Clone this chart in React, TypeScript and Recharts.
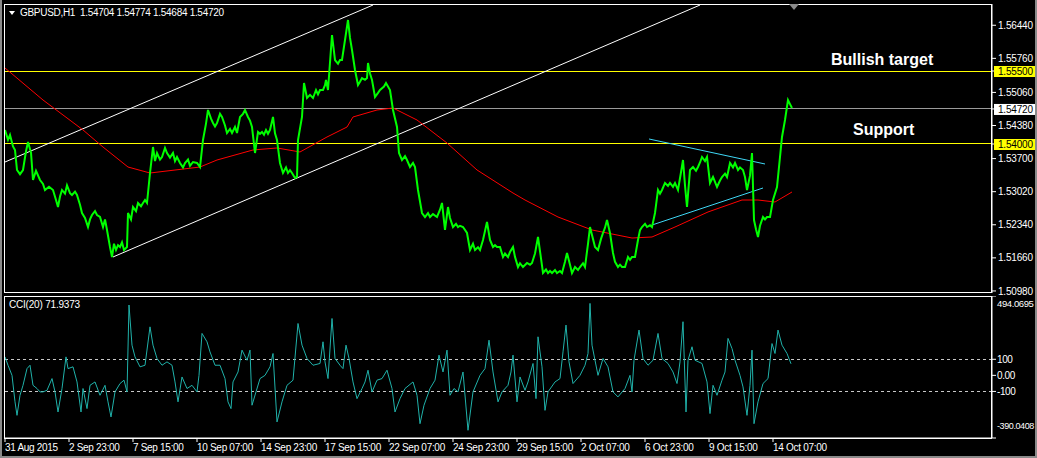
import { LineChart, Line, XAxis, YAxis, ReferenceLine } from 'recharts';

const FONT = '"Liberation Sans", Arial, sans-serif';

// one bar per hour, counted across the chart window
const X_DOMAIN: [number, number] = [4, 992];
const TIME_TICKS = [5, 69, 133, 197, 261, 325, 389, 453, 517, 581, 645, 709, 773];
const TIME_LABELS = [
  '31 Aug 2015', '2 Sep 23:00', '7 Sep 15:00', '10 Sep 07:00', '14 Sep 23:00',
  '17 Sep 15:00', '22 Sep 07:00', '24 Sep 23:00', '29 Sep 15:00', '2 Oct 07:00',
  '6 Oct 23:00', '9 Oct 15:00', '14 Oct 07:00',
];

const PRICE_DOMAIN: [number, number] = [1.50938, 1.56877];
const PRICE_TICKS = [1.5098, 1.5166, 1.5234, 1.5302, 1.537, 1.5438, 1.5506, 1.5576, 1.5644];
const BULLISH_TARGET = 1.555;
const SUPPORT = 1.54;
const LAST_PRICE = 1.5472;

// GBPUSD H1 close [bar, price]
const PRICE: [number, number][] = [
  [5, 1.54288], [8, 1.54085], [10, 1.54185], [13, 1.5395], [15, 1.53877], [17, 1.53466], [20, 1.5338],
  [23, 1.53466], [26, 1.5385], [28, 1.54041], [31, 1.5382], [33, 1.5326], [36, 1.5345], [40, 1.5326],
  [43, 1.5318], [45, 1.53055], [49, 1.5312], [53, 1.53055], [56, 1.5285], [58, 1.52705], [60, 1.5292],
  [62, 1.53055], [65, 1.5298], [67, 1.5315], [70, 1.5299], [72, 1.52952], [75, 1.5302], [77, 1.52952],
  [80, 1.5275], [82, 1.52582], [85, 1.5248], [88, 1.52294], [90, 1.5245], [92, 1.52541], [95, 1.5262],
  [97, 1.52541], [100, 1.525], [103, 1.52294], [105, 1.5245], [107, 1.52233], [110, 1.51883],
  [112, 1.51678], [114, 1.5195], [116, 1.51822], [118, 1.5192], [120, 1.51883], [122, 1.5198],
  [124, 1.51822], [127, 1.51883], [128, 1.52582], [131, 1.5245], [133, 1.52705], [136, 1.5262],
  [138, 1.52788], [141, 1.5272], [143, 1.52788], [145, 1.5285], [147, 1.52788], [150, 1.53404],
  [153, 1.53938], [155, 1.5365], [157, 1.53815], [160, 1.5368], [162, 1.53733], [165, 1.5392],
  [167, 1.53815], [170, 1.5372], [173, 1.53815], [175, 1.5365], [177, 1.53733], [180, 1.5361],
  [183, 1.5352], [185, 1.5361], [188, 1.5368], [190, 1.5355], [193, 1.5363], [197, 1.5361],
  [200, 1.53527], [203, 1.54082], [206, 1.5442], [208, 1.54699], [211, 1.5452], [213, 1.54432],
  [215, 1.5436], [217, 1.54432], [220, 1.5462], [222, 1.54555], [225, 1.5438], [227, 1.54226],
  [230, 1.5431], [232, 1.54226], [235, 1.5435], [237, 1.54226], [240, 1.54555], [243, 1.5462],
  [245, 1.54699], [248, 1.54555], [250, 1.5448], [252, 1.54349], [255, 1.53815], [258, 1.54247],
  [260, 1.5421], [262, 1.54247], [264, 1.5419], [266, 1.54288], [268, 1.5421], [270, 1.54288],
  [273, 1.54555], [275, 1.5422], [277, 1.54082], [280, 1.5361], [283, 1.53404], [286, 1.5352],
  [288, 1.53404], [290, 1.5346], [292, 1.53404], [295, 1.53301], [297, 1.53322], [298, 1.54082],
  [300, 1.5432], [302, 1.54555], [304, 1.55254], [307, 1.54945], [310, 1.5501], [313, 1.54945],
  [316, 1.5511], [318, 1.5502], [320, 1.5511], [323, 1.5511], [325, 1.5521], [326, 1.55315],
  [328, 1.5511], [332, 1.5624], [335, 1.55726], [338, 1.5565], [340, 1.55726], [342, 1.55726],
  [345, 1.56137], [348, 1.56548], [350, 1.5618], [352, 1.55932], [355, 1.55521], [358, 1.55212],
  [360, 1.5528], [362, 1.55356], [365, 1.5532], [367, 1.55356], [368, 1.55665], [370, 1.5545],
  [372, 1.55315], [375, 1.54966], [378, 1.5505], [380, 1.5511], [384, 1.5518], [386, 1.55254],
  [390, 1.5511], [393, 1.54699], [397, 1.54349], [399, 1.53815], [402, 1.53671], [405, 1.5375],
  [407, 1.53671], [410, 1.53527], [413, 1.5361], [415, 1.53527], [418, 1.53055], [422, 1.52582],
  [425, 1.525], [428, 1.5258], [430, 1.525], [433, 1.5256], [437, 1.525], [440, 1.5265],
  [442, 1.52788], [445, 1.52233], [448, 1.52705], [450, 1.5248], [453, 1.52294], [456, 1.5236],
  [458, 1.52294], [460, 1.5232], [463, 1.52294], [467, 1.52171], [470, 1.51822], [473, 1.5195],
  [475, 1.51822], [478, 1.5188], [480, 1.51822], [483, 1.52027], [487, 1.52397], [490, 1.52027],
  [493, 1.51883], [495, 1.5192], [497, 1.51883], [500, 1.51883], [503, 1.51678], [505, 1.5175],
  [508, 1.51678], [510, 1.5178], [513, 1.51883], [515, 1.5168], [518, 1.51472], [520, 1.5155],
  [523, 1.51472], [527, 1.51555], [530, 1.5152], [532, 1.51555], [535, 1.5175], [538, 1.52089],
  [541, 1.5165], [543, 1.51349], [546, 1.5142], [548, 1.51349], [550, 1.5139], [552, 1.51349],
  [555, 1.5141], [557, 1.51349], [560, 1.5139], [562, 1.51349], [565, 1.5158], [567, 1.5176],
  [570, 1.5152], [572, 1.51349], [575, 1.51472], [578, 1.5141], [580, 1.51472], [583, 1.5155],
  [585, 1.51472], [588, 1.5195], [590, 1.52294], [593, 1.5205], [595, 1.51883], [598, 1.51822],
  [601, 1.5205], [603, 1.52171], [605, 1.5228], [607, 1.52438], [610, 1.52171], [613, 1.5176],
  [615, 1.5158], [618, 1.51472], [620, 1.5152], [622, 1.51472], [625, 1.51472], [628, 1.51678],
  [630, 1.5162], [632, 1.51678], [635, 1.51678], [638, 1.52027], [640, 1.5223], [642, 1.52294],
  [645, 1.5236], [647, 1.52294], [650, 1.5233], [652, 1.52294], [655, 1.52582], [658, 1.53055],
  [660, 1.5298], [662, 1.53055], [665, 1.53199], [668, 1.5314], [670, 1.53199], [673, 1.5312],
  [675, 1.53199], [678, 1.53055], [681, 1.5342], [683, 1.53671], [685, 1.5315], [687, 1.52705],
  [690, 1.53466], [693, 1.53527], [696, 1.5345], [698, 1.53527], [700, 1.5362], [702, 1.53733],
  [705, 1.5365], [707, 1.53733], [710, 1.53199], [713, 1.53322], [715, 1.5322], [717, 1.53116],
  [720, 1.5325], [722, 1.53322], [725, 1.5339], [727, 1.53322], [730, 1.5361], [733, 1.5352],
  [735, 1.5361], [738, 1.53466], [740, 1.5352], [743, 1.53466], [745, 1.5332], [747, 1.53055],
  [750, 1.5335], [752, 1.53815], [754, 1.52438], [756, 1.5225], [758, 1.52089], [760, 1.5232],
  [763, 1.525], [765, 1.5245], [767, 1.525], [770, 1.525], [773, 1.52849], [777, 1.53116],
  [780, 1.53733], [782, 1.54144], [785, 1.54493], [788, 1.54904], [790, 1.5482], [792, 1.5474],
];

// red moving average [bar, price]
const MA: [number, number][] = [
  [5, 1.55562], [43, 1.54904], [83, 1.54288], [103, 1.53938], [128, 1.53527], [150, 1.53404],
  [200, 1.53527], [217, 1.53671], [253, 1.53877], [277, 1.53918], [300, 1.53836], [327, 1.54144],
  [347, 1.54349], [353, 1.54555], [377, 1.54699], [393, 1.5474], [417, 1.54493], [447, 1.5402],
  [477, 1.53466], [513, 1.52993], [525, 1.52849], [558, 1.525], [592, 1.52233], [632, 1.52068],
  [652, 1.52089], [675, 1.52294], [708, 1.52603], [742, 1.52849], [758, 1.52849], [775, 1.52808],
  [792, 1.53014],
];

// drawn trend lines [[bar, price], [bar, price]]
const CHANNEL_UPPER: [number, number][] = [[5, 1.5363], [373, 1.56856]];
const CHANNEL_LOWER: [number, number][] = [[113, 1.51678], [700, 1.56856]];
const TRIANGLE_UPPER: [number, number][] = [[649, 1.54103], [765, 1.53589]];
const TRIANGLE_LOWER: [number, number][] = [[652, 1.52335], [763, 1.53096]];

// CCI(20) [bar, value]
const CCI_DOMAIN: [number, number] = [-390.0408, 494.0695];
const CCI_TICKS = [-390.0408, -100, 0, 100, 494.0695];
const CCI: [number, number][] = [
  [5, 115], [8, 63], [12, 0], [15, -165], [17, -249], [20, -124], [23, -62], [27, 42], [30, 63],
  [33, -62], [37, -82], [40, -103], [43, -103], [47, -93], [52, -20], [55, -103], [58, -228],
  [62, -82], [66, 115], [68, 42], [73, 53], [77, -41], [81, -228], [83, -82], [87, -207], [90, -62],
  [95, -41], [100, -124], [105, -62], [108, -165], [111, -259], [115, -103], [120, -51], [124, -30],
  [127, -103], [129, 438], [132, 188], [135, 115], [140, 53], [145, 63], [150, 302], [153, 188],
  [157, 105], [162, 63], [167, 84], [172, 63], [175, -41], [178, -165], [182, -10], [187, -82],
  [192, -62], [197, -103], [199, 0], [202, 261], [207, 209], [210, 146], [215, 63], [220, 63],
  [225, -20], [228, -165], [231, -207], [233, -41], [238, 21], [242, 157], [247, 94], [250, 157],
  [252, -186], [256, -103], [260, -20], [265, 0], [270, 53], [273, 136], [277, -290], [282, -165],
  [287, -62], [293, -30], [298, 323], [302, 188], [307, 105], [313, 63], [320, 74], [323, 209],
  [325, 84], [328, -20], [332, 354], [335, 105], [340, 63], [343, 42], [346, 188], [349, 105],
  [353, -41], [357, -145], [362, -82], [365, -41], [368, 32], [372, -103], [377, -30], [382, -20],
  [387, 32], [392, -82], [395, -228], [400, -145], [405, -82], [413, -41], [417, -124], [420, -301],
  [424, -186], [430, -82], [435, -30], [439, 126], [443, 21], [447, 157], [450, -124], [454, -82],
  [458, -103], [463, 21], [468, -342], [473, -103], [480, 0], [485, 42], [489, 219], [493, 21],
  [498, -165], [502, -103], [508, -62], [511, 21], [513, 126], [517, -165], [520, -10], [525, -93],
  [528, -41], [533, 74], [536, -145], [538, 240], [542, 53], [545, -218], [548, -103], [555, -41],
  [560, -20], [563, 146], [566, 313], [569, 84], [573, -51], [580, 0], [585, 63], [588, 136],
  [590, 448], [592, 188], [598, 0], [603, 105], [608, 53], [613, -103], [618, -134], [625, -82],
  [630, 0], [632, -103], [634, 94], [639, 282], [643, 105], [648, 63], [653, 94], [658, 261],
  [662, 105], [668, 74], [673, 21], [677, -51], [680, 84], [683, 334], [686, -228], [688, 94],
  [692, 178], [695, 94], [702, 74], [707, -41], [710, -238], [713, -62], [717, -124], [722, -30],
  [725, 21], [728, 230], [732, 167], [735, 94], [740, 0], [743, -72], [747, -249], [750, -62],
  [752, 157], [754, -301], [758, -165], [763, -51], [768, -20], [772, 198], [775, 136], [778, 282],
  [782, 188], [787, 136], [791, 72],
];

const toRows = (pts: [number, number][]) => pts.map(([x, v]) => ({ x, v }));
const toSeg = (pts: [number, number][]) => pts.map(([x, y]) => ({ x, y }));

const TAGS: Record<string, string> = {
  [BULLISH_TARGET.toFixed(5)]: '#ffff00',
  [SUPPORT.toFixed(5)]: '#ffff00',
  [LAST_PRICE.toFixed(5)]: '#ffffff',
};

function PriceTick({ x, y, payload }: any) {
  const label = Number(payload.value).toFixed(5);
  const bg = TAGS[label];
  return (
    <g>
      {bg && <rect x={x - 4} y={y - 5} width={43} height={11} fill={bg} />}
      <text x={x} y={y} dy={3.6} fill={bg ? '#000' : '#fff'} fontSize={10} fontFamily={FONT} letterSpacing={-0.2}>
        {label}
      </text>
    </g>
  );
}

function CciTick({ x, y, payload }: any) {
  const v = Number(payload.value);
  let label = String(v);
  let dy = 3.6;
  let size = 10;
  if (v === 0) label = '0.00';
  if (v === CCI_DOMAIN[1]) { dy = 10.5; size = 9.5; }
  if (v === CCI_DOMAIN[0]) { dy = -9; size = 9; }
  return (
    <text x={x - 1} y={y} dy={dy} fill="#fff" fontSize={size} fontFamily={FONT} letterSpacing={-0.4}>
      {label}
    </text>
  );
}

function TimeTick({ x, y, payload }: any) {
  const i = TIME_TICKS.indexOf(payload.value);
  return (
    <text x={x} y={y} dy={6.5} fill="#fff" fontSize={10} fontFamily={FONT} letterSpacing={-0.3}>
      {TIME_LABELS[i]}
    </text>
  );
}

const abs = (left: number, top: number): React.CSSProperties => ({ position: 'absolute', left, top });

export default function App() {
  return (
    <div style={{ position: 'fixed', left: 0, top: 0, width: 1037, height: 458, background: '#000', overflow: 'hidden' }}>
      <div style={{ ...abs(0, 0) }}>
        <LineChart width={1037} height={296} margin={{ top: 4, right: 0, bottom: 3, left: 4 }}>
          <XAxis type="number" dataKey="x" domain={X_DOMAIN} allowDataOverflow hide />
          <YAxis
            orientation="right"
            type="number"
            domain={PRICE_DOMAIN}
            allowDataOverflow
            ticks={[...PRICE_TICKS, BULLISH_TARGET, SUPPORT, LAST_PRICE]}
            interval={0}
            width={45}
            tickSize={4}
            tickMargin={2}
            tick={<PriceTick />}
            axisLine={{ stroke: '#fff' }}
            tickLine={{ stroke: '#fff' }}
          />
          <ReferenceLine y={BULLISH_TARGET} stroke="#ffff00" shapeRendering="crispEdges" />
          <ReferenceLine y={SUPPORT} stroke="#ffff00" shapeRendering="crispEdges" />
          <ReferenceLine y={LAST_PRICE} stroke="#9a9a9a" shapeRendering="crispEdges" />
          <ReferenceLine segment={toSeg(CHANNEL_UPPER)} stroke="#fff" ifOverflow="hidden" />
          <ReferenceLine segment={toSeg(CHANNEL_LOWER)} stroke="#fff" ifOverflow="hidden" />
          <ReferenceLine segment={toSeg(TRIANGLE_UPPER)} stroke="#3fd7f5" ifOverflow="hidden" />
          <ReferenceLine segment={toSeg(TRIANGLE_LOWER)} stroke="#3fd7f5" ifOverflow="hidden" />
          <Line data={toRows(MA)} dataKey="v" stroke="#ff0000" strokeWidth={1} dot={false} isAnimationActive={false} />
          <Line data={toRows(PRICE)} dataKey="v" stroke="#00ff00" strokeWidth={2} dot={false} isAnimationActive={false} />
        </LineChart>
      </div>

      <div style={{ ...abs(0, 296) }}>
        <LineChart width={1037} height={162} margin={{ top: 0, right: 0, bottom: 0, left: 4 }}>
          <XAxis
            type="number"
            dataKey="x"
            domain={X_DOMAIN}
            allowDataOverflow
            ticks={TIME_TICKS}
            interval={0}
            height={20}
            tickSize={4}
            tickMargin={2}
            tick={<TimeTick />}
            axisLine={{ stroke: '#fff' }}
            tickLine={{ stroke: '#fff' }}
          />
          <YAxis
            orientation="right"
            type="number"
            domain={CCI_DOMAIN}
            allowDataOverflow
            ticks={CCI_TICKS}
            interval={0}
            width={45}
            tickSize={4}
            tickMargin={2}
            tick={<CciTick />}
            axisLine={{ stroke: '#fff' }}
            tickLine={{ stroke: '#fff' }}
          />
          <ReferenceLine y={100} stroke="#c8c8c8" strokeDasharray="3 3" shapeRendering="crispEdges" />
          <ReferenceLine y={-100} stroke="#c8c8c8" strokeDasharray="3 3" shapeRendering="crispEdges" />
          <Line data={toRows(CCI)} dataKey="v" stroke="#20b2aa" strokeWidth={1} dot={false} isAnimationActive={false} />
        </LineChart>
      </div>

      {/* panel frames */}
      <div style={{ ...abs(4, 4), width: 988, height: 289, border: '1px solid #fff', boxSizing: 'border-box', pointerEvents: 'none' }} />
      <div style={{ ...abs(4, 296), width: 988, height: 143, border: '1px solid #fff', boxSizing: 'border-box', pointerEvents: 'none' }} />
      <div style={{ ...abs(0, 0), width: 2, height: 458, background: '#8a8a8a' }} />
      <div style={{ ...abs(1035, 0), width: 2, height: 458, background: '#8a8a8a' }} />
      <div style={{ ...abs(0, 456), width: 1037, height: 2, background: '#8a8a8a' }} />
      <div style={{ ...abs(789, 4), width: 0, height: 0, borderLeft: '5px solid transparent', borderRight: '5px solid transparent', borderTop: '6px solid #8a8a8a' }} />

      {/* header */}
      <div style={{ ...abs(9, 11), width: 0, height: 0, borderLeft: '3.5px solid transparent', borderRight: '3.5px solid transparent', borderTop: '4px solid #fff' }} />
      <div style={{ ...abs(20, 7), color: '#fff', fontFamily: FONT, fontSize: 10, lineHeight: '12px', letterSpacing: -0.3, whiteSpace: 'pre' }}>
        {'GBPUSD,H1  1.54704 1.54774 1.54684 1.54720'}
      </div>
      <div style={{ ...abs(9, 299), color: '#fff', fontFamily: FONT, fontSize: 10, lineHeight: '12px', letterSpacing: -0.2 }}>
        CCI(20) 71.9373
      </div>

      {/* annotations */}
      <div style={{ ...abs(831, 50), color: '#fff', fontFamily: FONT, fontSize: 16, fontWeight: 'bold', lineHeight: '20px' }}>
        Bullish target
      </div>
      <div style={{ ...abs(853, 120), color: '#fff', fontFamily: FONT, fontSize: 16, fontWeight: 'bold', lineHeight: '20px' }}>
        Support
      </div>
    </div>
  );
}
